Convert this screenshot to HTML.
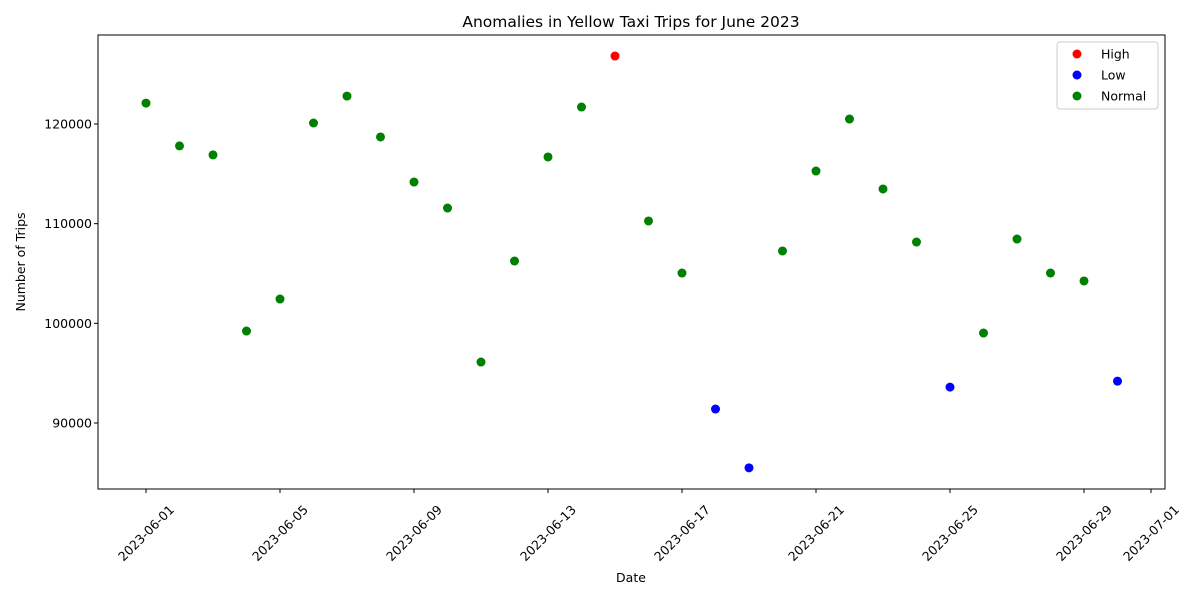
<!DOCTYPE html>
<html><head><meta charset="utf-8"><style>
body{margin:0;background:#fff;font-family:"DejaVu Sans",sans-serif}
svg text{font-family:"DejaVu Sans",sans-serif;fill:#000}
</style></head><body>
<svg id="c" width="1200" height="600" xmlns="http://www.w3.org/2000/svg"></svg>
<script>
const days=[1,2,3,4,5,6,7,8,9,10,11,12,13,14,15,16,17,18,19,20,21,22,23,24,25,26,27,28,29,30];
const trips=[122100,117800,116900,99230,102440,120100,122800,118700,114180,111570,96120,106250,116690,121700,126820,110270,105050,91400,85500,107260,115280,120500,113480,108160,93600,99030,108460,105050,104250,94200];
const labels=["Normal","Normal","Normal","Normal","Normal","Normal","Normal","Normal","Normal","Normal","Normal","Normal","Normal","Normal","High","Normal","Normal","Low","Low","Normal","Normal","Normal","Normal","Normal","Low","Normal","Normal","Normal","Normal","Low"];
const yTicks=[90000,100000,110000,120000];
const xTickDays=[1,5,9,13,17,21,25,29,31];
const xTickLabels=["2023-06-01","2023-06-05","2023-06-09","2023-06-13","2023-06-17","2023-06-21","2023-06-25","2023-06-29","2023-07-01"];
const L=98,R=1165,T=35,B=489;
const X=d=>146+(d-1)*33.5;
const Y=v=>124+(120000-v)*0.009967;
const colors={High:"#ff0000",Low:"#0000ff",Normal:"#008000"};
const svg=document.getElementById('c');const NS="http://www.w3.org/2000/svg";
function mk(t,a,p){const e=document.createElementNS(NS,t);for(const k in a)e.setAttribute(k,a[k]);(p||svg).appendChild(e);return e;}
let t=mk('text',{x:631,y:27,'text-anchor':'middle','font-size':15.5});t.textContent="Anomalies in Yellow Taxi Trips for June 2023";


yTicks.forEach(v=>{const y=Y(v);
 const l=mk('line',{x1:L-4,x2:L,y1:y,y2:y,stroke:'#000'});
 
 
 const tx=mk('text',{x:L-6,y:y+4.5,'text-anchor':'end','font-size':12.5});tx.textContent=v;
 
 });
xTickDays.forEach((d,i)=>{const x=X(d);
 const l=mk('line',{x1:x,x2:x,y1:B,y2:B+4,stroke:'#000'});
 
 
 const cy=B+44;
 const tx=mk('text',{x:x,y:cy+4.5,'text-anchor':'middle','font-size':12.5,transform:`rotate(-45 ${x} ${cy})`});tx.textContent=xTickLabels[i];
 
 });
days.forEach((d,i)=>{const c=mk('circle',{cx:X(d),cy:Y(trips[i]),r:4.5,fill:colors[labels[i]]});
 
 });
const fr=mk('rect',{x:L,y:T,width:R-L,height:B-T,fill:'none',stroke:'#000','stroke-width':1});


t=mk('text',{x:631,y:582,'text-anchor':'middle','font-size':12.5});t.textContent="Date";


t=mk('text',{x:25,y:262,'text-anchor':'middle','font-size':12.5,transform:'rotate(-90 25 262)'});t.textContent="Number of Trips";


const lg=mk('g',{});


mk('rect',{x:1057,y:42,width:101,height:67,fill:'#fff',stroke:'#ccc',rx:3},lg);
["High","Low","Normal"].forEach((k,i)=>{const y=54+i*21;
 const c=mk('circle',{cx:1077,cy:y,r:4.5,fill:colors[k]},lg);
 
 
 const tx=mk('text',{x:1101,y:y+4.5,'font-size':12.5},lg);tx.textContent=k;
 
 });
</script>
</body></html>
